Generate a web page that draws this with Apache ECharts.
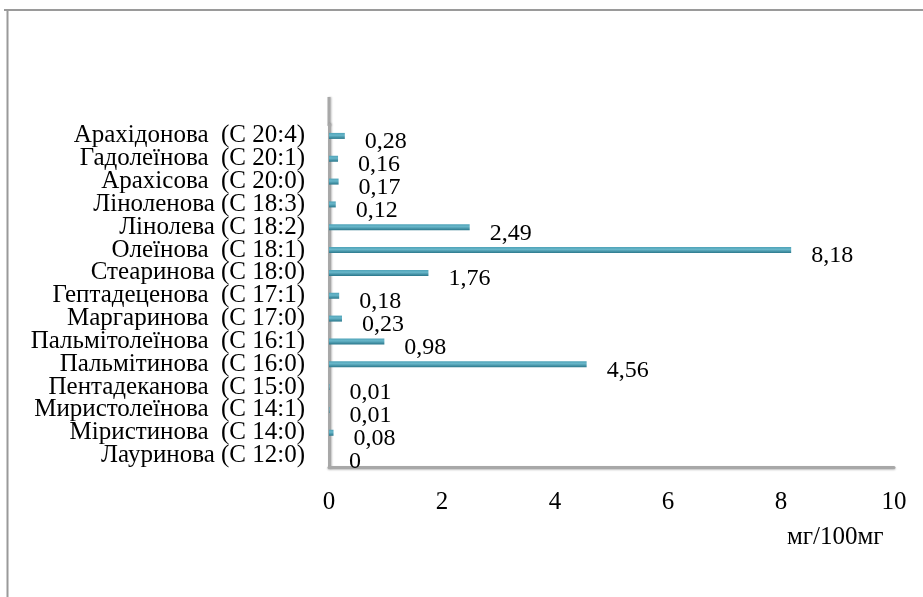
<!DOCTYPE html>
<html>
<head>
<meta charset="utf-8">
<script src="https://cdn.jsdelivr.net/npm/echarts@6/dist/echarts.min.js"></script>
<style>
html,body{margin:0;padding:0;background:#fff;}
#c{width:923px;height:597px;}
</style>
</head>
<body>
<div id="c"></div>
<script>
const categories = [
  'Лауринова (С 12:0)',
  'Міристинова  (С 14:0)',
  'Миристолеїнова  (С 14:1)',
  'Пентадеканова  (С 15:0)',
  'Пальмітинова  (С 16:0)',
  'Пальмітолеїнова  (С 16:1)',
  'Маргаринова  (С 17:0)',
  'Гептадеценова  (С 17:1)',
  'Стеаринова (С 18:0)',
  'Олеїнова  (С 18:1)',
  'Лінолева (С 18:2)',
  'Ліноленова (С 18:3)',
  'Арахісова  (С 20:0)',
  'Гадолеїнова  (С 20:1)',
  'Арахідонова  (С 20:4)'
];
const values = [0, 0.08, 0.01, 0.01, 4.56, 0.98, 0.23, 0.18, 1.76, 8.18, 2.49, 0.12, 0.17, 0.16, 0.28];
const xTicks = [0, 2, 4, 6, 8, 10];
const unitLabel = 'мг/100мг';

const FONT = '"Liberation Serif", "Times New Roman", serif';
const chart = echarts.init(document.getElementById('c'), null, {renderer: 'canvas'});
const axisGray = '#a8a8a8';

chart.setOption({
  animation: false,
  backgroundColor: '#fff',
  title: {
    text: unitLabel,
    left: 787,
    top: 524,
    padding: 0,
    textStyle: {fontFamily: FONT, fontSize: 25, lineHeight: 26, fontWeight: 'normal', color: '#000'}
  },
  grid: {left: 329, right: 29, top: 124.5, bottom: 130, containLabel: false},
  xAxis: {
    type: 'value',
    min: xTicks[0],
    max: xTicks[xTicks.length - 1],
    interval: 2,
    axisLine: {show: true, lineStyle: {color: axisGray, width: 3, shadowColor: 'rgba(0,0,0,0.25)', shadowBlur: 2, shadowOffsetY: 1}},
    axisTick: {show: false},
    splitLine: {show: false},
    axisLabel: {fontFamily: FONT, fontSize: 25, color: '#000', margin: 23}
  },
  yAxis: {
    type: 'category',
    data: categories,
    axisLine: {show: true, lineStyle: {color: axisGray, width: 3, shadowColor: 'rgba(0,0,0,0.25)', shadowBlur: 2, shadowOffsetX: 1}},
    axisTick: {show: false},
    axisLabel: {interval: 0, fontFamily: FONT, fontSize: 25, color: '#000', margin: 24, lineHeight: 23}
  },
  series: [{
    type: 'bar',
    data: values,
    barWidth: 6,
    itemStyle: {
      color: new echarts.graphic.LinearGradient(0, 0, 0, 1, [
        {offset: 0, color: '#4fa3b8'},
        {offset: 0.4, color: '#68b6c9'},
        {offset: 1, color: '#2a778b'}
      ])
    },
    label: {
      show: true,
      position: 'right',
      distance: 0,
      offset: [20, 6],
      fontFamily: FONT,
      fontSize: 24,
      color: '#000',
      formatter: p => String(p.value).replace('.', ',')
    }
  }]
});

const x0 = chart.convertToPixel({xAxisIndex: 0}, 0);
const yTop = chart.convertToPixel({yAxisIndex: 0}, categories[categories.length - 1]);
chart.setOption({
  graphic: [
    {type: 'line', shape: {x1: 4, y1: 10, x2: 923, y2: 10}, style: {stroke: '#9a9a9a', lineWidth: 2}},
    {type: 'line', shape: {x1: 7.5, y1: 10, x2: 7.5, y2: 597}, style: {stroke: '#9a9a9a', lineWidth: 2}},
    {type: 'line', shape: {x1: x0, y1: 97, x2: x0, y2: yTop - 10}, style: {stroke: axisGray, lineWidth: 3, shadowColor: 'rgba(0,0,0,0.25)', shadowBlur: 2, shadowOffsetX: 1}}
  ]
});
</script>
</body>
</html>
